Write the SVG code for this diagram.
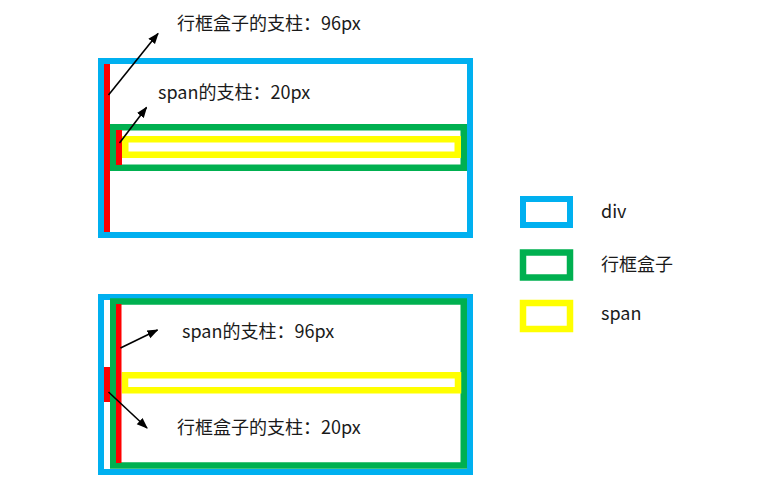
<svg xmlns="http://www.w3.org/2000/svg" width="757" height="489" viewBox="0 0 757 489">
<defs>
<style>
.div{fill:none;stroke:#00B0F0;stroke-width:6}
.line{fill:none;stroke:#00B050;stroke-width:6.5}
.span{fill:none;stroke:#FFFF00;stroke-width:6.5}
.strut{fill:#FF0000}
.t{font-family:"Noto Sans CJK SC","Microsoft YaHei",sans-serif;font-size:18px;fill:#1a1a1a}
.arr{stroke:#000;stroke-width:1.6;fill:none;marker-end:url(#ah)}
</style>
<marker id="ah" viewBox="0 0 10 10" refX="9" refY="5" markerWidth="7" markerHeight="7" orient="auto" markerUnits="strokeWidth">
<path d="M0,1.2 L10,5 L0,8.8 z" fill="#000"/>
</marker>
</defs>
<rect width="757" height="489" fill="#fff"/>
<g id="top-diagram">
<g id="top-div"><rect class="div" x="101" y="61" width="369" height="174"/></g>
<g id="top-linebox"><rect class="line" x="113.25" y="127.25" width="350.5" height="40.5"/></g>
<g id="top-span"><rect class="span" x="125.25" y="139.25" width="332.5" height="15.5"/></g>
<g id="top-strut-96"><rect class="strut" x="104" y="64" width="6" height="168"/></g>
<g id="top-strut-20"><rect class="strut" x="116" y="130" width="6" height="35"/></g>
<g id="top-label-96"><text class="t" x="177" y="30">行框盒子的支柱：96px</text></g>
<g id="top-label-20"><text class="t" x="158" y="99">span的支柱：20px</text></g>
</g>
<g id="bottom-diagram">
<g id="bottom-div"><rect class="div" x="101" y="297" width="369" height="175"/></g>
<g id="bottom-linebox"><rect class="line" x="113.25" y="301.5" width="350.5" height="164"/></g>
<g id="bottom-span"><rect class="span" x="125" y="375.25" width="333" height="15"/></g>
<g id="bottom-strut-96"><rect class="strut" x="116" y="304" width="5.5" height="159"/></g>
<g id="bottom-strut-20"><rect class="strut" x="104" y="367" width="6" height="35"/></g>
<g id="bottom-label-96"><text class="t" x="182" y="338">span的支柱：96px</text></g>
<g id="bottom-label-20"><text class="t" x="177" y="434">行框盒子的支柱：20px</text></g>
</g>
<g id="connectors">
<line class="arr" x1="108.5" y1="95" x2="158" y2="33.5"/>
<line class="arr" x1="119.5" y1="143" x2="146.5" y2="107.5"/>
<line class="arr" x1="120.5" y1="348" x2="157.5" y2="330"/>
<line class="arr" x1="108.5" y1="392" x2="147" y2="428"/>
</g>
<g id="legend">
<g id="legend-div"><rect class="div" x="523" y="199" width="47" height="26"/><text class="t" x="601" y="218">div</text></g>
<g id="legend-linebox"><rect class="line" x="523" y="252.5" width="47" height="25"/><text class="t" x="601" y="271">行框盒子</text></g>
<g id="legend-span"><rect class="span" x="523" y="303" width="47" height="26"/><text class="t" x="601" y="320">span</text></g>
</g>
</svg>
